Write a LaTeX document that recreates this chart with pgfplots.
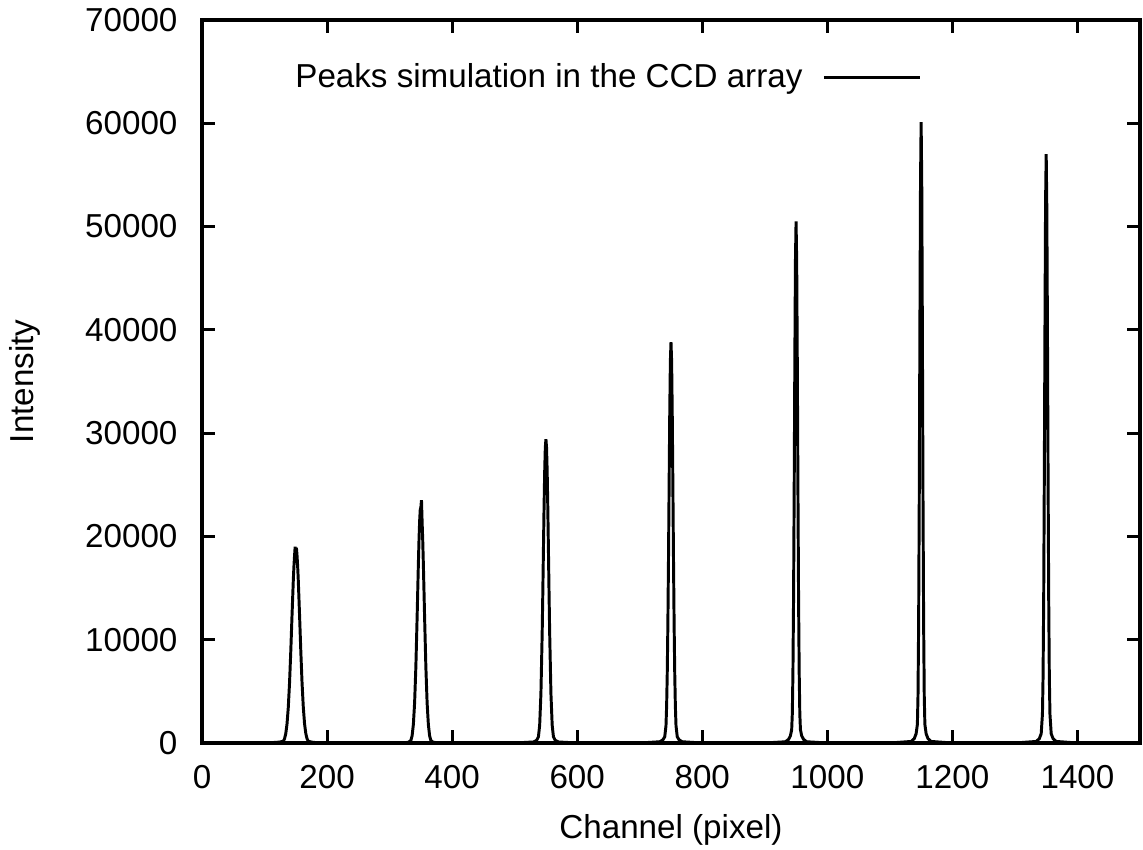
\documentclass[border=0pt]{standalone}
\usepackage{pgfplots}
\pgfplotsset{compat=1.18}
\usepackage{fontspec}
\setmainfont{Liberation Sans}
\begin{document}
\begin{tikzpicture}
\begin{axis}[
  at={(0,0)}, anchor=south west,
  scale only axis,
  width=11.725cm, height=9.04cm,
  xmin=0, xmax=1500, ymin=0, ymax=70000,
  xtick={0,200,...,1400},
  ytick={0,10000,...,70000},
  tick pos=both,
  tick align=inside,
  major tick length=0.16cm,
  minor tick num=0,
  axis line style={line width=1.4pt},
  every tick/.style={line width=1.1pt, black},
  /pgf/number format/assume math mode=true,
  /pgf/number format/1000 sep={},
  scaled ticks=false,
  font=\fontsize{11.8}{14}\selectfont,
  xticklabel style={anchor=center, inner sep=0pt, yshift=-0.43cm},
  yticklabel style={anchor=east, inner sep=0pt, xshift=-0.3cm},
  xlabel={Channel (pixel)},
  ylabel={Intensity},
  xlabel style={at={(axis description cs:0.5,-0.1314)}, anchor=base},
  ylabel style={at={(axis description cs:-0.1887,0.5)}, anchor=center},
  legend plot pos=right,
  legend style={draw=none, fill=none, at={(0.7676,0.9198)}, anchor=east, inner sep=0pt,
    font=\fontsize{11.8}{14}\selectfont},
  legend image code/.code={\path (0cm,0cm); \draw[#1] (0.18cm,0cm) -- (1.38cm,0cm);},
]
\addplot[black, line width=1.05pt] coordinates {
(0,0) (100,0) (118,60) (124,90) (130,170) (132,410) (134,920) (136,1870) (138,3460) (140,5820) (142,8910) (144,12410) (146,15720) (147,17080) (148,18120) (149,19000) (150,18300) (151,18900) (152,18120) (153,17080) (154,15720) (156,12410) (158,8910) (160,5820) (162,3460) (164,1870) (166,920) (168,410) (170,170) (176,80) (182,40) (200,0)
(300,0) (322,30) (330,60) (334,240) (336,700) (338,1780) (340,3880) (342,7360) (344,12120) (346,17300) (347,19590) (348,21420) (349,22590) (350,22800) (351,23500) (352,21420) (353,19590) (354,17300) (356,12120) (358,7360) (360,3880) (362,1780) (364,700) (366,240) (370,60) (380,30) (400,0)
(500,0) (530,100) (535,250) (538,600) (540,1730) (542,4790) (544,10600) (545,14470) (546,18680) (547,22780) (548,26250) (549,28580) (550,29400) (551,28580) (552,26250) (553,22780) (554,18680) (555,14470) (556,10600) (558,4790) (560,1730) (562,600) (565,250) (570,100) (600,0)
(700,0) (732,120) (737,300) (740,600) (742,1700) (743,3550) (744,6690) (745,11450) (746,17770) (747,24990) (748,31920) (749,36950) (750,38800) (751,36950) (752,31920) (753,24990) (754,17770) (755,11450) (756,6690) (757,3550) (758,1700) (760,600) (763,300) (768,120) (800,0)
(900,0) (933,120) (938,350) (941,700) (943,1300) (944,2830) (945,6830) (946,14040) (947,24580) (948,36670) (949,46620) (950,50500) (951,46620) (952,36670) (953,24580) (954,14040) (955,6830) (956,2830) (957,1300) (959,700) (962,350) (967,120) (1000,0)
(1100,0) (1134,150) (1139,420) (1142,900) (1144,1800) (1145,4540) (1146,11510) (1147,23720) (1148,39760) (1149,54200) (1150,60100) (1151,54200) (1152,39760) (1153,23720) (1154,11510) (1155,4540) (1156,1800) (1158,900) (1161,420) (1166,150) (1200,0)
(1300,0) (1334,150) (1339,420) (1342,900) (1344,2800) (1345,6440) (1346,14080) (1347,25870) (1348,39930) (1349,52400) (1350,57000) (1351,51800) (1352,39930) (1353,25870) (1354,14080) (1355,6440) (1356,2800) (1358,900) (1361,420) (1366,150) (1400,0) (1500,0)
};
\addlegendentry{Peaks simulation in the CCD array}
\end{axis}
\pgfresetboundingbox
\path[use as bounding box] (-2.525,-1.3375) rectangle (11.7625,9.2875);
\end{tikzpicture}
\end{document}
